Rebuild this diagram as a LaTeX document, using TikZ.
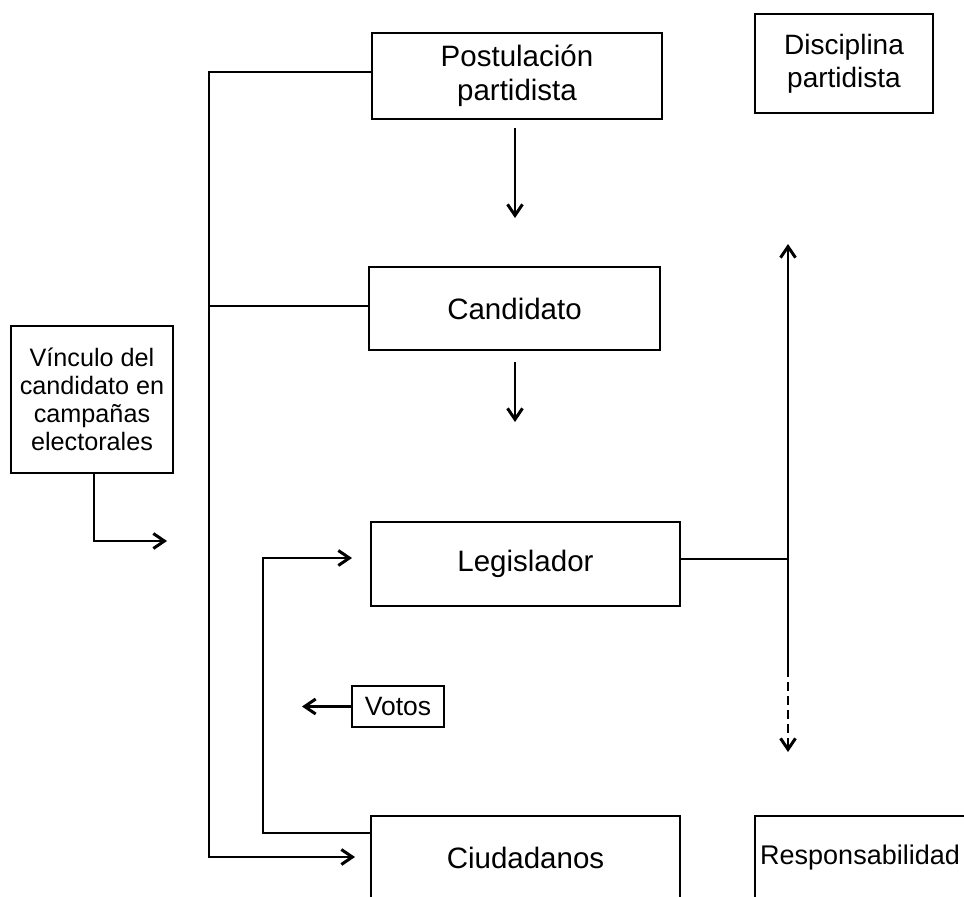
\documentclass[tikz,border=0pt]{standalone}
\usepackage{fontspec}
\setmainfont{Liberation Sans}
\usetikzlibrary{arrows.meta}
\begin{document}
\begin{tikzpicture}[x=1pt,y=-1pt,
  box/.style={draw, line width=2.4pt, rectangle, inner sep=0pt, align=center, font=\fontsize{29.5}{34}\selectfont},
  conn/.style={line width=2.4pt},
  arr/.style={conn, -{Straight Barb[length=11pt,width=15pt,line width=3pt]}},
]
\useasboundingbox (0,0) rectangle (964,897);
\clip (0,0) rectangle (964,897);
\fill[white] (0,0) rectangle (964,897);

\node[box, minimum width=290pt, minimum height=86pt] (post) at (517,76) {Postulación\\partidista};
\node[box, font=\fontsize{28}{33}\selectfont, minimum width=178pt, minimum height=99pt] (disc) at (844,63.5) {Disciplina\\partidista};
\node[box, minimum width=291pt, minimum height=83pt] (cand) at (514.5,308.5) {Candidato};
\node[box, minimum width=309pt, minimum height=84pt] (leg) at (525.5,564) {Legislador};
\node[box, minimum width=309pt, minimum height=84pt] (ciud) at (525.5,858) {Ciudadanos};
\node[box, font=\fontsize{27}{32}\selectfont, minimum width=260pt, minimum height=84pt, anchor=west, text width=250pt, align=left] (resp) at (754,858) {Responsabilidad};
\node[box, font=\fontsize{26.5}{30}\selectfont, minimum width=92pt, minimum height=41pt] (votos) at (398,706.5) {Votos};
\node[box, font=\fontsize{25.2}{28}\selectfont, minimum width=162pt, minimum height=147pt] (vinc) at (92,399.5) {Vínculo del\\candidato en\\campañas\\electorales};

\coordinate (tl) at (209,72);
\coordinate (ml) at (209,306);
\coordinate (bl) at (209,857);
\coordinate (blend) at (355,857);
\draw[arr] (post.west |- tl) -- (tl) -- (bl) -- (blend);
\draw[conn] (cand.west |- ml) -- (ml);

\coordinate (a1s) at (515,128);
\coordinate (a1e) at (515,218);
\coordinate (a2s) at (515,362);
\coordinate (a2e) at (515,422);
\draw[arr] (a1s) -- (a1e);
\draw[arr] (a2s) -- (a2e);

\coordinate (v1) at (94,541);
\coordinate (v2) at (167,541);
\draw[arr] (vinc.south -| v1) -- (v1) -- (v2);

\coordinate (l1) at (263,833);
\coordinate (l2) at (263,558);
\coordinate (l3) at (352,558);
\draw[arr] (ciud.west |- l1) -- (l1) -- (l2) -- (l3);

\coordinate (vt) at (302,706.5);
\draw[arr] (votos.west) -- (vt);

\coordinate (r1) at (788,559);
\coordinate (rt) at (788,244);
\coordinate (rm) at (788,668);
\coordinate (rb) at (788,752);
\draw[conn] (leg.east |- r1) -- (r1);
\draw[arr] (rm) -- (rt);
\draw[arr, dash pattern=on 9pt off 5pt] (rm) -- (rb);
\end{tikzpicture}
\end{document}
